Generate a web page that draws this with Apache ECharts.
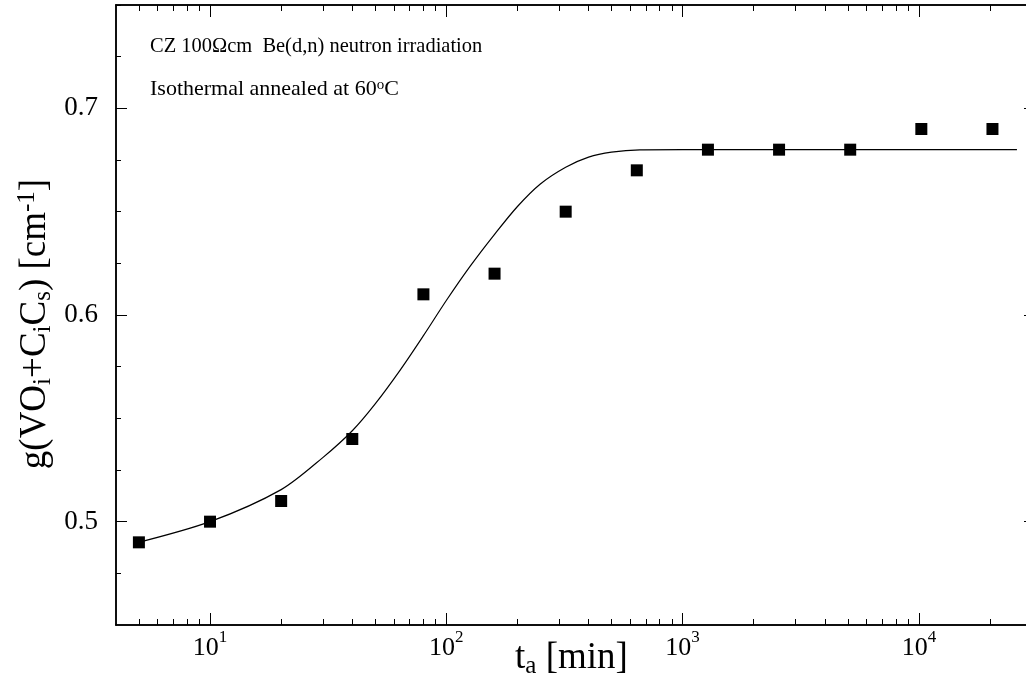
<!DOCTYPE html>
<html>
<head>
<meta charset="utf-8">
<title>Isothermal annealing at 60C</title>
<script src="https://cdn.jsdelivr.net/npm/echarts@6/dist/echarts.min.js"></script>
<style>
  html, body { margin: 0; padding: 0; background: #fff; }
  #main { width: 1026px; height: 679px; }
</style>
</head>
<body>
<div id="main"></div>
<script>
// measured points (annealing time in min, g value in cm^-1)
var timeMin = [5, 10, 20, 40, 80, 160, 320, 640, 1280, 2560, 5120, 10240, 20480];
var gValue = [0.49, 0.50, 0.51, 0.54, 0.61, 0.62, 0.65, 0.67, 0.68, 0.68, 0.68, 0.69, 0.69];

// fit curve
var fitTime = [4.8, 10, 20, 30, 40, 50, 64, 80, 100, 126, 160, 200, 250, 320, 400, 500, 660, 1000, 2000, 5000, 10000, 26000];
var fitValue = [0.4895, 0.500, 0.5155, 0.531, 0.544, 0.557, 0.5736, 0.590, 0.607, 0.6235, 0.639, 0.6525, 0.6634, 0.6715, 0.6764, 0.6788, 0.6799, 0.680, 0.680, 0.680, 0.680, 0.680];

// ticks
var xMajor = [10, 100, 1000, 10000];
var xMinor = [5, 6, 7, 8, 9, 20, 30, 40, 50, 60, 70, 80, 90, 200, 300, 400, 500, 600, 700, 800, 900,
              2000, 3000, 4000, 5000, 6000, 7000, 8000, 9000, 20000, 30000];
var yMajor = [0.5, 0.6, 0.7];
var yMinor = [0.475, 0.525, 0.55, 0.575, 0.625, 0.65, 0.675, 0.725, 0.75];

var serif = 'Liberation Serif';
var X_MIN = 4, X_MAX = 31000, Y_MIN = 0.45, Y_MAX = 0.75;

function zip(a, b) {
    var out = [];
    for (var i = 0; i < a.length; i++) {
        out.push([a[i], b[i]]);
    }
    return out;
}

function xAxisDef(pos, ticks, len, withLabels) {
    return {
        type: 'log',
        logBase: 10,
        position: pos,
        min: X_MIN,
        max: X_MAX,
        axisLine: { show: true, lineStyle: { color: '#000', width: 1.5 } },
        axisTick: { show: true, inside: true, length: len, customValues: ticks,
                    lineStyle: { color: '#000', width: 1 } },
        minorTick: { show: false },
        axisLabel: withLabels ? {
            show: true,
            customValues: xMajor,
            margin: 4,
            formatter: function(v) {
                return '{b|10}{s|' + Math.round(Math.log(v) / Math.LN10) + '}';
            },
            rich: {
                b: { fontFamily: serif, fontSize: 26, color: '#000', lineHeight: 32, verticalAlign: 'bottom' },
                s: { fontFamily: serif, fontSize: 17, color: '#000', lineHeight: 17, verticalAlign: 'top' }
            }
        } : { show: false },
        splitLine: { show: false }
    };
}

function yAxisDef(pos, ticks, len, withLabels) {
    return {
        type: 'value',
        position: pos,
        min: Y_MIN,
        max: Y_MAX,
        axisLine: { show: true, lineStyle: { color: '#000', width: 1.5 } },
        axisTick: { show: true, inside: true, length: len, customValues: ticks,
                    lineStyle: { color: '#000', width: 1 } },
        axisLabel: withLabels ? {
            show: true,
            customValues: yMajor,
            margin: 18,
            fontFamily: serif,
            fontSize: 27,
            color: '#000',
            formatter: function(v) { return v.toFixed(1); }
        } : { show: false },
        splitLine: { show: false }
    };
}

var myChart = echarts.init(document.getElementById('main'));

var xBottom = xAxisDef('bottom', xMajor, 12, true);
xBottom.name = 't{sub|a} [min]';
xBottom.nameLocation = 'middle';
xBottom.nameGap = 13;
xBottom.nameMoveOverlap = false;
xBottom.nameTextStyle = {
    fontFamily: serif, fontSize: 37, color: '#000',
    padding: [0, 8, 0, 0],
    rich: {
        sub: { fontFamily: serif, fontSize: 25, color: '#000', verticalAlign: 'bottom', padding: [16, 0, 0, 0] }
    }
};

var yLeft = yAxisDef('left', yMajor, 11, true);
yLeft.name = 'g(VO{sub|i}+C{sub|i}C{sub|s}) [cm{sup|-1}]';
yLeft.nameLocation = 'middle';
yLeft.nameGap = 60;
yLeft.nameMoveOverlap = false;
yLeft.nameTextStyle = {
    fontFamily: serif, fontSize: 37, color: '#000',
    padding: [0, 18, 0, 0],
    rich: {
        sub: { fontFamily: serif, fontSize: 25, color: '#000', verticalAlign: 'bottom', padding: [16, 0, 0, 0] },
        sup: { fontFamily: serif, fontSize: 25, color: '#000', verticalAlign: 'top', padding: [0, 0, 16, 0] }
    }
};

var option = {
    backgroundColor: '#fff',
    animation: false,
    grid: { left: 116, top: 5, right: -9, bottom: 54, outerBoundsMode: 'none', containLabel: false },
    xAxis: [
        xBottom,
        xAxisDef('bottom', xMinor, 6, false),
        xAxisDef('top', xMajor, 12, false),
        xAxisDef('top', xMinor, 6, false)
    ],
    yAxis: [
        yLeft,
        yAxisDef('left', yMinor, 5, false),
        yAxisDef('right', yMajor, 11, false),
        yAxisDef('right', yMinor, 5, false)
    ],
    graphic: [
        {
            type: 'text', left: 150, top: 35,
            scaleX: 0.93,
            style: {
                text: 'CZ 100\u03A9cm  Be(d,n) neutron irradiation',
                font: '22px "Liberation Serif"', fill: '#000'
            }
        },
        {
            type: 'text', left: 150, top: 78,
            style: {
                text: 'Isothermal annealed at 60{sup|o}C',
                font: '22px "Liberation Serif"', fill: '#000',
                rich: {
                    sup: { fontFamily: serif, fontSize: 15, fill: '#000', verticalAlign: 'top', padding: [0, 0, 8, 0] }
                }
            }
        }
    ],
    series: [
        {
            type: 'line',
            name: 'fit',
            data: zip(fitTime, fitValue),
            smooth: 0.3,
            showSymbol: false,
            symbol: 'none',
            lineStyle: { color: '#000', width: 1.2 },
            z: 2
        },
        {
            type: 'scatter',
            name: 'data',
            data: zip(timeMin, gValue),
            symbol: 'rect',
            symbolSize: 12,
            itemStyle: { color: '#000', opacity: 1 },
            z: 3
        }
    ]
};
myChart.setOption(option);
</script>
</body>
</html>
